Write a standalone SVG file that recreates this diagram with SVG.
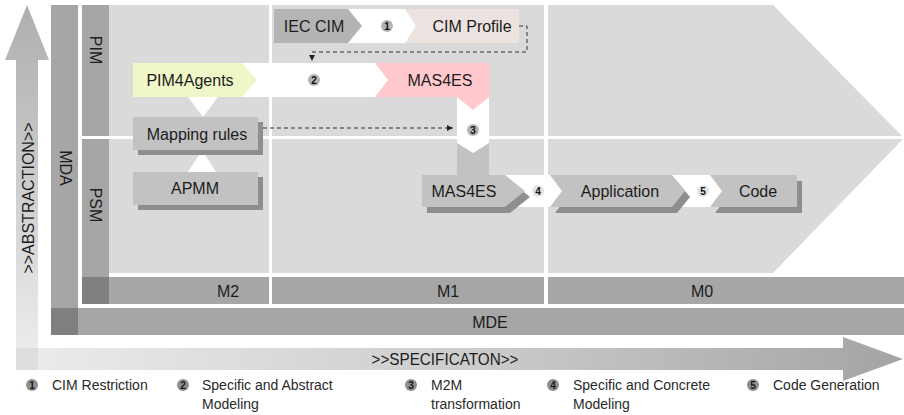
<svg xmlns="http://www.w3.org/2000/svg" width="904" height="415" viewBox="0 0 904 415">
  <defs>
    <linearGradient id="abstractionFill" gradientUnits="userSpaceOnUse" x1="0" y1="5" x2="0" y2="370">
      <stop offset="0" stop-color="#afafaf"/>
      <stop offset="0.25" stop-color="#bdbdbd"/>
      <stop offset="1" stop-color="#f0f0f0"/>
    </linearGradient>
    <linearGradient id="specificationFill" gradientUnits="userSpaceOnUse" x1="16" y1="0" x2="903" y2="0">
      <stop offset="0" stop-color="#ececec"/>
      <stop offset="0.5" stop-color="#cdcdcd"/>
      <stop offset="1" stop-color="#a4a4a4"/>
    </linearGradient>
    <marker id="arrowHead" viewBox="0 0 6 6" refX="6" refY="3" markerWidth="6" markerHeight="6" markerUnits="userSpaceOnUse" orient="auto">
      <path d="M0,0 L6,3 L0,6 Z" fill="#222"/>
    </marker>
  </defs>
  <style>
    text { font-family: "Liberation Sans", Arial, sans-serif; fill: #1c1c1c; }
    .lbl { font-size: 16px; text-anchor: middle; dominant-baseline: central; }
    .bar { fill: #a6a6a6; }
    .corner { fill: #808080; }
    .zone { fill: #dadada; }
    .gap { fill: #ffffff; }
    .node { fill: #c2c2c2; }
    .shadow { fill: #8e8e8e; }
    .step circle { fill: #b3b3b3; }
    .step.light circle { fill: #e4e4e4; }
    .step text { font-size: 10px; font-weight: bold; text-anchor: middle; dominant-baseline: central; fill: #111; }
    .leg circle { fill: #8f8f8f; }
    .leg .num { font-size: 10px; font-weight: bold; text-anchor: middle; dominant-baseline: central; fill: #1a1a1a; }
    .leg .txt { font-size: 14px; fill: #2a2a2a; }
    .dash { fill: none; stroke: #333; stroke-width: 1; stroke-dasharray: 4 3; }
  </style>

  <!-- axes -->
  <g id="specification-axis">
    <polygon points="16,348 843,348 843,337 903,359 843,381 843,370 16,370" fill="url(#specificationFill)"/>
    <text x="445" y="359" font-size="17" text-anchor="middle" dominant-baseline="central" fill="#222" textLength="147" lengthAdjust="spacingAndGlyphs">&gt;&gt;SPECIFICATON&gt;&gt;</text>
  </g>
  <g id="abstraction-axis">
    <polygon points="27,5 49,60 38,60 38,348 16,348 16,60 5,60" fill="url(#abstractionFill)"/>
    <rect x="16" y="348" width="22" height="22" fill="#dedede"/>
    <text class="lbl" transform="translate(28,198) rotate(-90)">&gt;&gt;ABSTRACTION&gt;&gt;</text>
  </g>

  <!-- MDA / MDE frame -->
  <g id="mda">
    <rect class="bar" x="51" y="5" width="27" height="303"/>
    <text class="lbl" transform="translate(65,168) rotate(90)">MDA</text>
  </g>
  <g id="mde">
    <rect class="corner" x="51" y="308" width="27" height="27"/>
    <rect class="bar" x="78" y="308" width="826" height="27"/>
    <text class="lbl" x="490" y="322">MDE</text>
  </g>

  <!-- modelling area -->
  <g id="model-area">
    <polygon class="zone" points="109,5 773,5 904,138 773,273 109,273"/>
    <rect class="gap" x="269" y="5" width="3" height="299"/>
    <rect class="gap" x="544" y="5" width="4" height="299"/>
    <rect class="gap" x="82" y="136" width="822" height="3"/>
    <rect class="gap" x="109" y="273" width="795" height="4"/>
  </g>
  <g id="pim">
    <rect class="bar" x="82" y="5" width="27" height="131"/>
    <text class="lbl" transform="translate(95,50) rotate(90)">PIM</text>
  </g>
  <g id="psm">
    <rect class="bar" x="82" y="139" width="27" height="138"/>
    <text class="lbl" transform="translate(95,205) rotate(90)">PSM</text>
  </g>
  <g id="levels">
    <rect class="corner" x="82" y="277" width="27" height="27"/>
    <rect class="bar" x="109" y="277" width="160" height="27"/>
    <rect class="bar" x="272" y="277" width="272" height="27"/>
    <rect class="bar" x="548" y="277" width="356" height="27"/>
    <text class="lbl" x="228" y="291">M2</text>
    <text class="lbl" x="448" y="291">M1</text>
    <text class="lbl" x="702" y="291">M0</text>
  </g>

  <!-- white flow bands behind the nodes -->
  <g id="flow-bands">
    <rect class="gap" x="345" y="9" width="72" height="34"/>
    <rect class="gap" x="240" y="63" width="150" height="34"/>
    <rect class="gap" x="457" y="97" width="32" height="56"/>
    <rect class="gap" x="500" y="175" width="222" height="32"/>
    <polygon class="gap" points="188,97 218,97 203,117"/>
    <polygon class="gap" points="188,172 216,172 202,150"/>
  </g>

  <!-- connectors -->
  <g id="connectors">
    <path class="dash" d="M519,26 H527 V52 H312 V61" marker-end="url(#arrowHead)"/>
    <path class="dash" d="M263,128 H453" marker-end="url(#arrowHead)"/>
  </g>

  <!-- nodes -->
  <g id="iec-cim">
    <polygon points="274,9 348,9 362,26 348,43 274,43" fill="#b4b4b4"/>
    <text class="lbl" x="314" y="26">IEC CIM</text>
  </g>
  <g id="cim-profile">
    <polygon points="405,9 519,9 519,43 405,43 416,26" fill="#ebe3df"/>
    <text class="lbl" x="472" y="26">CIM Profile</text>
  </g>
  <g id="pim4agents">
    <polygon points="133,63 242,63 257,80 242,97 133,97" fill="#eff6c8"/>
    <text class="lbl" x="190" y="80">PIM4Agents</text>
  </g>
  <g id="mas4es-pim">
    <polygon points="375,63 489,63 489,97 473,110 457,97 375,97 388,80" fill="#ffc9cd"/>
    <text class="lbl" x="440" y="80">MAS4ES</text>
  </g>
  <g id="mapping-rules">
    <rect class="shadow" x="138" y="122" width="125" height="33"/>
    <rect class="node" x="133" y="117" width="125" height="33"/>
    <text class="lbl" x="197" y="134">Mapping rules</text>
  </g>
  <g id="apmm">
    <rect class="shadow" x="138" y="177" width="125" height="33"/>
    <rect class="node" x="133" y="172" width="125" height="33"/>
    <text class="lbl" x="195" y="188">APMM</text>
  </g>
  <g id="mas4es-psm">
    <polygon class="shadow" points="427,181 510,181 530,197 510,213 427,213"/>
    <polygon class="node" points="457,143 473,153 489,143 489,175 505,175 525,191 505,207 422,207 422,175 457,175" fill="#bababa"/>
    <text class="lbl" x="464" y="191">MAS4ES</text>
  </g>
  <g id="application">
    <polygon class="shadow" points="555,181 677,181 690,197 677,213 555,213 567,197"/>
    <polygon class="node" points="550,175 672,175 685,191 672,207 550,207 562,191"/>
    <text class="lbl" x="620" y="191">Application</text>
  </g>
  <g id="code">
    <polygon class="shadow" points="715,181 802,181 802,213 715,213 727,197"/>
    <polygon class="node" points="710,175 797,175 797,207 710,207 722,191"/>
    <text class="lbl" x="758" y="191">Code</text>
  </g>

  <!-- step markers -->
  <g id="step-1" class="step"><circle cx="387" cy="26" r="6"/><text x="387" y="26.5">1</text></g>
  <g id="step-2" class="step"><circle cx="314" cy="80" r="6"/><text x="314" y="80.5">2</text></g>
  <g id="step-3" class="step"><circle cx="473" cy="130" r="6"/><text x="473" y="130.5">3</text></g>
  <g id="step-4" class="step light"><circle cx="538" cy="191" r="6"/><text x="538" y="191.5">4</text></g>
  <g id="step-5" class="step light"><circle cx="703" cy="191" r="6"/><text x="703" y="191.5">5</text></g>

  <!-- legend -->
  <g id="legend">
    <g class="leg"><circle cx="32" cy="385" r="6"/><text class="num" x="32" y="385.5">1</text>
      <text class="txt" x="52" y="390">CIM Restriction</text></g>
    <g class="leg"><circle cx="183" cy="385" r="6"/><text class="num" x="183" y="385.5">2</text>
      <text class="txt" x="202" y="390">Specific and Abstract</text>
      <text class="txt" x="202" y="409">Modeling</text></g>
    <g class="leg"><circle cx="411" cy="385" r="6"/><text class="num" x="411" y="385.5">3</text>
      <text class="txt" x="431" y="390">M2M</text>
      <text class="txt" x="431" y="409">transformation</text></g>
    <g class="leg"><circle cx="553" cy="385" r="6"/><text class="num" x="553" y="385.5">4</text>
      <text class="txt" x="573" y="390">Specific and Concrete</text>
      <text class="txt" x="573" y="409">Modeling</text></g>
    <g class="leg"><circle cx="753" cy="385" r="6"/><text class="num" x="753" y="385.5">5</text>
      <text class="txt" x="773" y="390">Code Generation</text></g>
  </g>
</svg>
